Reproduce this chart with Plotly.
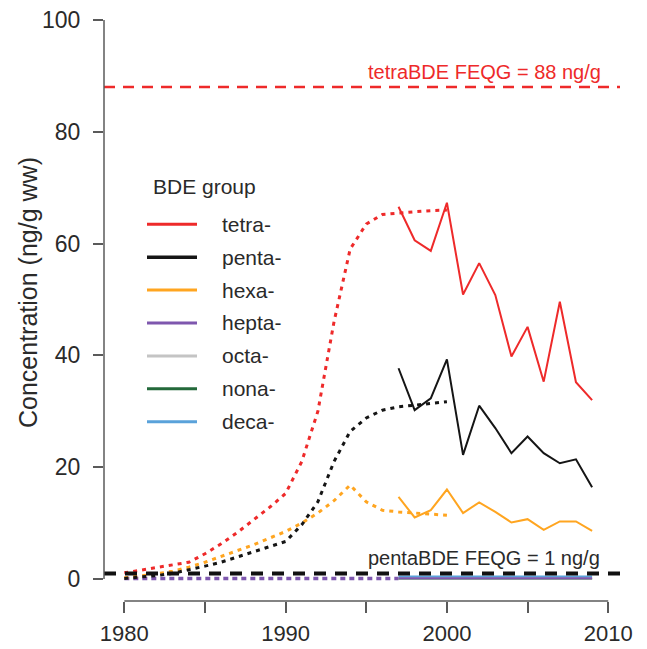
import plotly.graph_objects as go

# ---------------- data ----------------
obs_years = [1997, 1998, 1999, 2000, 2001, 2002, 2003, 2004, 2005, 2006, 2007, 2008, 2009]
tetra_obs = [66.6, 60.6, 58.7, 67.3, 50.9, 56.5, 50.8, 39.8, 45.1, 35.3, 49.6, 35.2, 32.0]
penta_obs = [37.7, 30.2, 32.3, 39.3, 22.2, 31.0, 27.0, 22.5, 25.5, 22.5, 20.7, 21.4, 16.4]
hexa_obs = [14.7, 11.0, 12.3, 16.0, 11.8, 13.7, 12.0, 10.1, 10.7, 8.8, 10.3, 10.3, 8.6]
hepta_obs = [0.15] * 13
octa_obs = [0.1] * 13
nona_obs = [0.05] * 13
deca_obs = [0.45] * 13

mod_years = list(range(1980, 2001))
tetra_mod = [1.1, 1.6, 2.0, 2.5, 3.0, 4.5, 6.3, 8.3, 10.5, 12.8, 15.3, 21.0, 30.0, 46.0,
             59.0, 63.5, 65.2, 65.5, 65.7, 65.9, 66.0]
penta_mod = [0.1, 0.3, 0.6, 1.0, 1.6, 2.3, 3.0, 3.9, 4.8, 5.7, 6.7, 9.7, 13.8, 21.0,
             26.4, 28.8, 30.2, 30.8, 31.1, 31.4, 31.7]
hexa_mod = [0.2, 0.5, 0.9, 1.4, 2.1, 3.0, 4.0, 5.0, 6.1, 7.3, 8.5, 10.0, 11.8, 14.0,
            16.8, 13.8, 12.3, 12.0, 11.8, 11.6, 11.4]
hepta_mod_years = list(range(1980, 1998))
hepta_mod = [0.1] * 18

tetra_feqg = 88
penta_feqg = 1

groups = ["tetra-", "penta-", "hexa-", "hepta-", "octa-", "nona-", "deca-"]
colors = ["#EE2A2A", "#151515", "#FFA520", "#7E57AE", "#C4C4C4", "#23693A", "#5AA2DA"]

x_ticks = [1980, 1985, 1990, 1995, 2000, 2005, 2010]
x_tick_text = ["1980", "", "1990", "", "2000", "", "2010"]
y_ticks = [0, 20, 40, 60, 80, 100]

# ---------------- layout geometry ----------------
W, H = 647, 649
L, R, T, B = 104, 27, 20, 48
PW, PH = W - L - R, H - T - B
XR = [1978.74, 2010.73]
YR = [-3.94, 100]


def px(xp):
    return (xp - L) / PW


def py(yp):
    return (H - B - yp) / PH


FONT = "Liberation Sans, Arial, sans-serif"
TXT = "#2a2a2a"
AX = "#5a5a5a"

fig = go.Figure()

dot = "4px,5px"
# modelled (dotted) curves
fig.add_trace(go.Scatter(x=hepta_mod_years, y=hepta_mod, mode="lines",
                         line=dict(color=colors[3], width=3.5, dash="5px,4px"), showlegend=False))
fig.add_trace(go.Scatter(x=mod_years, y=hexa_mod, mode="lines",
                         line=dict(color=colors[2], width=3, dash=dot), showlegend=False))
fig.add_trace(go.Scatter(x=mod_years, y=penta_mod, mode="lines",
                         line=dict(color=colors[1], width=3, dash=dot), showlegend=False))
fig.add_trace(go.Scatter(x=mod_years, y=tetra_mod, mode="lines",
                         line=dict(color=colors[0], width=3, dash=dot), showlegend=False))

# observed (solid) series
for vals, c in [(nona_obs, colors[5]), (octa_obs, colors[4]), (deca_obs, colors[6]),
                (hepta_obs, colors[3]), (hexa_obs, colors[2]), (penta_obs, colors[1]),
                (tetra_obs, colors[0])]:
    fig.add_trace(go.Scatter(x=obs_years, y=vals, mode="lines",
                             line=dict(color=c, width=2), showlegend=False))

# guideline levels
fig.add_shape(type="line", xref="paper", yref="y", x0=0, x1=1, y0=tetra_feqg, y1=tetra_feqg,
              line=dict(color=colors[0], width=2.5, dash="11px,8px"))
fig.add_shape(type="line", xref="paper", yref="y", x0=0, x1=1, y0=penta_feqg, y1=penta_feqg,
              line=dict(color="#111111", width=4, dash="12px,9px"))

# detached R-style axis lines
fig.add_shape(type="line", xref="paper", yref="y", x0=0, x1=0, y0=y_ticks[0], y1=y_ticks[-1],
              line=dict(color=AX, width=1.5))
fig.add_shape(type="line", xref="x", yref="paper", x0=x_ticks[0], x1=x_ticks[-1], y0=0, y1=0,
              line=dict(color=AX, width=1.5))

annotations = [
    dict(text="tetraBDE FEQG = 88 ng/g", x=2002.3, y=tetra_feqg, xref="x", yref="y",
         yanchor="bottom", yshift=2, showarrow=False,
         font=dict(family=FONT, size=20, color=colors[0])),
    dict(text="pentaBDE FEQG = 1 ng/g", x=2002.3, y=penta_feqg, xref="x", yref="y",
         yanchor="bottom", yshift=2, showarrow=False,
         font=dict(family=FONT, size=20, color=TXT)),
    dict(text="Concentration (ng/g ww)", x=px(28), y=py(293), xref="paper", yref="paper",
         textangle=-90, showarrow=False, xanchor="center", yanchor="middle",
         font=dict(family=FONT, size=25, color=TXT)),
    dict(text="BDE group", x=px(151), y=py(187), xref="paper", yref="paper",
         xanchor="left", yanchor="middle", showarrow=False,
         font=dict(family=FONT, size=21, color=TXT)),
]

# manual legend
for i, (g, c) in enumerate(zip(groups, colors)):
    yy = 224.3 + i * 32.9
    fig.add_shape(type="line", xref="paper", yref="paper", x0=px(147), x1=px(197),
                  y0=py(yy), y1=py(yy), line=dict(color=c, width=3.5 if i == 1 else 3))
    annotations.append(dict(text=g, x=px(220), y=py(yy), xref="paper", yref="paper",
                            xanchor="left", yanchor="middle", showarrow=False,
                            font=dict(family=FONT, size=21, color=TXT)))

fig.update_layout(
    template="none",
    width=W, height=H,
    margin=dict(l=L, r=R, t=T, b=B, autoexpand=False),
    paper_bgcolor="white", plot_bgcolor="white",
    showlegend=False,
    annotations=annotations,
    font=dict(family=FONT, color=TXT),
    xaxis=dict(range=XR, showgrid=False, zeroline=False, showline=False, automargin=False,
               tickmode="array", tickvals=x_ticks, ticktext=x_tick_text,
               ticks="outside", ticklen=11, tickwidth=1.5, tickcolor=AX,
               ticklabelstandoff=2, tickfont=dict(family=FONT, size=22, color=TXT)),
    yaxis=dict(range=YR, showgrid=False, zeroline=False, showline=False, automargin=False,
               tickmode="array", tickvals=y_ticks,
               ticks="outside", ticklen=10, tickwidth=1.5, tickcolor=AX,
               ticklabelstandoff=8, tickfont=dict(family=FONT, size=23, color=TXT)),
)

fig.write_html("out.html")
